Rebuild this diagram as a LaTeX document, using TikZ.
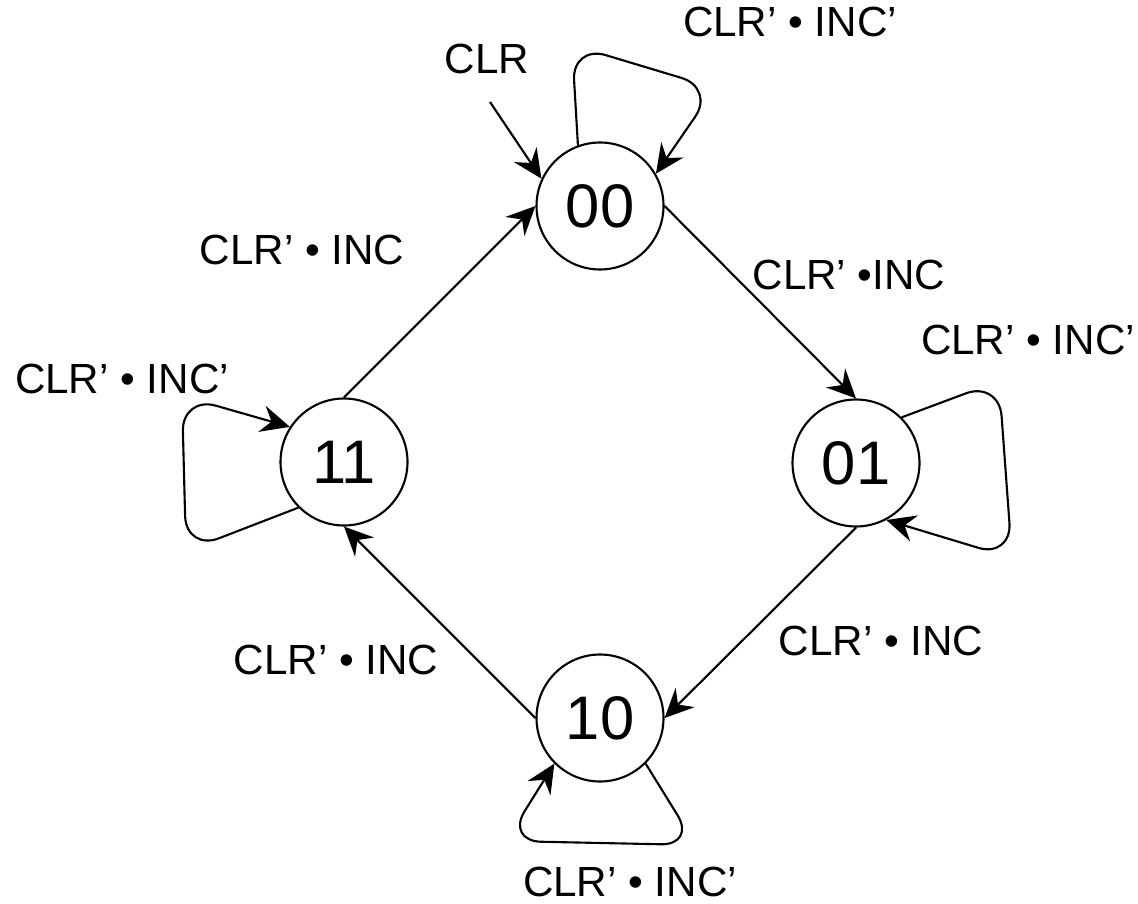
\documentclass[tikz,border=0pt]{standalone}
\usepackage{fontspec}
\setmainfont{Liberation Sans}
\usetikzlibrary{arrows.meta}

\begin{document}
\begin{tikzpicture}[line width=0.6pt,font=\fontsize{12}{14}\selectfont]
   \useasboundingbox (0,0) rectangle (11.38,9.03);
   \tikzstyle{state}=[circle, draw=black, minimum size=12.7mm, inner sep=0pt, font=\fontsize{17.5}{20}\selectfont]
   \tikzstyle{trans}=[arrows={-{Stealth[length=2.9mm,width=2.7mm,inset=1mm]}}]
   \tikzstyle{loop}=[trans, rounded corners=10pt]
   \foreach \name/\x/\y in {00/6.00/6.97, 01/8.56/4.40, 10/6.00/1.85, 11/3.44/4.41} {
       \node[state] (s\name) at (\x,\y) {\name};
   }
   \node (clr) at (4.87,8.44) {CLR};
   \coordinate (reset) at (4.90,8.01);
   \path[trans] (reset) edge (s00.155);
   \path[trans] (s00.east) edge (s01.north);
   \path[trans] (s01.south) edge (s10.east);
   \path[trans] (s10.west) edge (s11.south);
   \path[trans] (s11.north) edge (s00.west);
   \draw[loop] (s00.110) -- (5.72,8.58) -- (7.15,8.15) -- (s00.30);
   \draw[loop] (s01.45) -- (9.99,5.22) -- (10.12,3.45) -- (s01.-62);
   \draw[loop] (s10.-45) -- (6.96,0.58) -- (5.06,0.62) -- (s10.225);
   \draw[loop] (s11.225) -- (1.86,3.52) -- (1.82,5.07) -- (s11.147);
   \node (l00) at (7.90,8.81) {CLR’ • INC’};
   \node (l00to01) at (8.49,6.28) {CLR’ •INC};
   \node (l01) at (10.28,5.63) {CLR’ • INC’};
   \node (l01to10) at (8.81,2.62) {CLR’ • INC};
   \node (l10) at (6.30,0.21) {CLR’ • INC’};
   \node (l10to11) at (3.36,2.43) {CLR’ • INC};
   \node (l11) at (1.22,5.24) {CLR’ • INC’};
   \node (l11to00) at (3.02,6.53) {CLR’ • INC};
\end{tikzpicture}
\end{document}
